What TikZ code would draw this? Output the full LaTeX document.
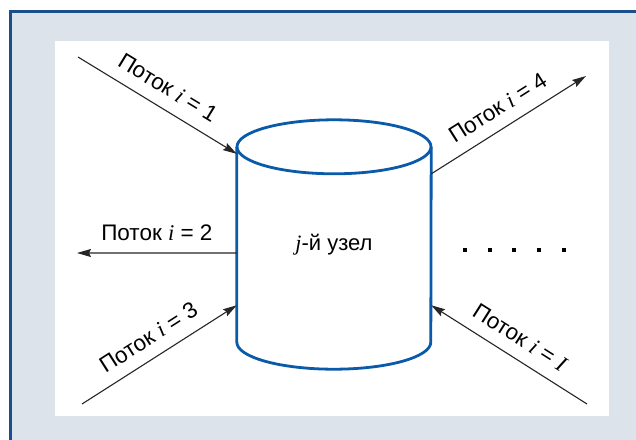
\documentclass[tikz,border=0pt]{standalone}
\usepackage{fontspec}
\setmainfont{Liberation Sans}
\newfontfamily\serifit{Liberation Serif}
\usetikzlibrary{arrows.meta}
\newcommand{\vr}[1]{{\serifit\itshape #1}}
\definecolor{framegray}{HTML}{DCE3EA}
\definecolor{frameblue}{HTML}{1B4F8C}
\definecolor{cylblue}{HTML}{0A5AAA}
\tikzset{% 
    flow/.style={line width=1.1pt,draw=black!85,-{Stealth[length=14pt,width=8pt,inset=2pt]}},
    lbl/.style={sloped,above=10pt,inner sep=2pt,font=\fontsize{22.5}{26}\selectfont},
    dotv/.style={inner sep=0pt,minimum size=4pt,fill=black}
}

\begin{document}
\begin{tikzpicture}[x=1pt,y=-1pt]
        \useasboundingbox (0,0) rectangle (636,439);
        \clip (0,0) rectangle (636,439);
        \fill[white] (0,0) rectangle (636,439);
        \draw[frameblue,line width=3pt,fill=framegray] (10.5,11.5) rectangle (660,460);
        \fill[white] (55,41) rectangle (609,416);
        % the node and its cylinder
        \node[minimum width=194pt,minimum height=195pt,inner sep=0pt,font=\fontsize{22}{26}\selectfont] (uzel) at (334,244.5) {\vr{j}-й узел};
        \draw[cylblue,line width=2.8pt] (uzel.north west) -- (uzel.south west)
            arc[start angle=180,end angle=360,x radius=97pt,y radius=27pt] -- (uzel.north east);
        \draw[cylblue,line width=2.8pt] (uzel.north) ellipse[x radius=97pt,y radius=27pt];
        % free ends of the flows
        \coordinate (s1) at (78,57);
        \coordinate (s2) at (77,253);
        \coordinate (s3) at (82,404);
        \coordinate (s4) at (586,76);
        \coordinate (sI) at (587,404);
        \draw[flow] (s1) -- node[lbl] (l1) {Поток \vr{i} = 1} (uzel.137);
        \draw[flow] (uzel.185) -- node[lbl] (l2) {Поток \vr{i} = 2} (s2);
        \draw[flow] (s3) -- node[lbl] (l3) {Поток \vr{i} = 3} (uzel.212);
        \draw[flow] (uzel.36) -- node[lbl] (l4) {Поток \vr{i} = 4} (s4);
        \draw[flow] (sI) -- node[lbl] (lI) {Поток \vr{i} = \vr{I}} (uzel.328);
        \foreach \x [count=\k] in {465,490,514,539,564}
            \node[dotv] (d\k) at (\x,250) {};
    \end{tikzpicture}
\end{document}
